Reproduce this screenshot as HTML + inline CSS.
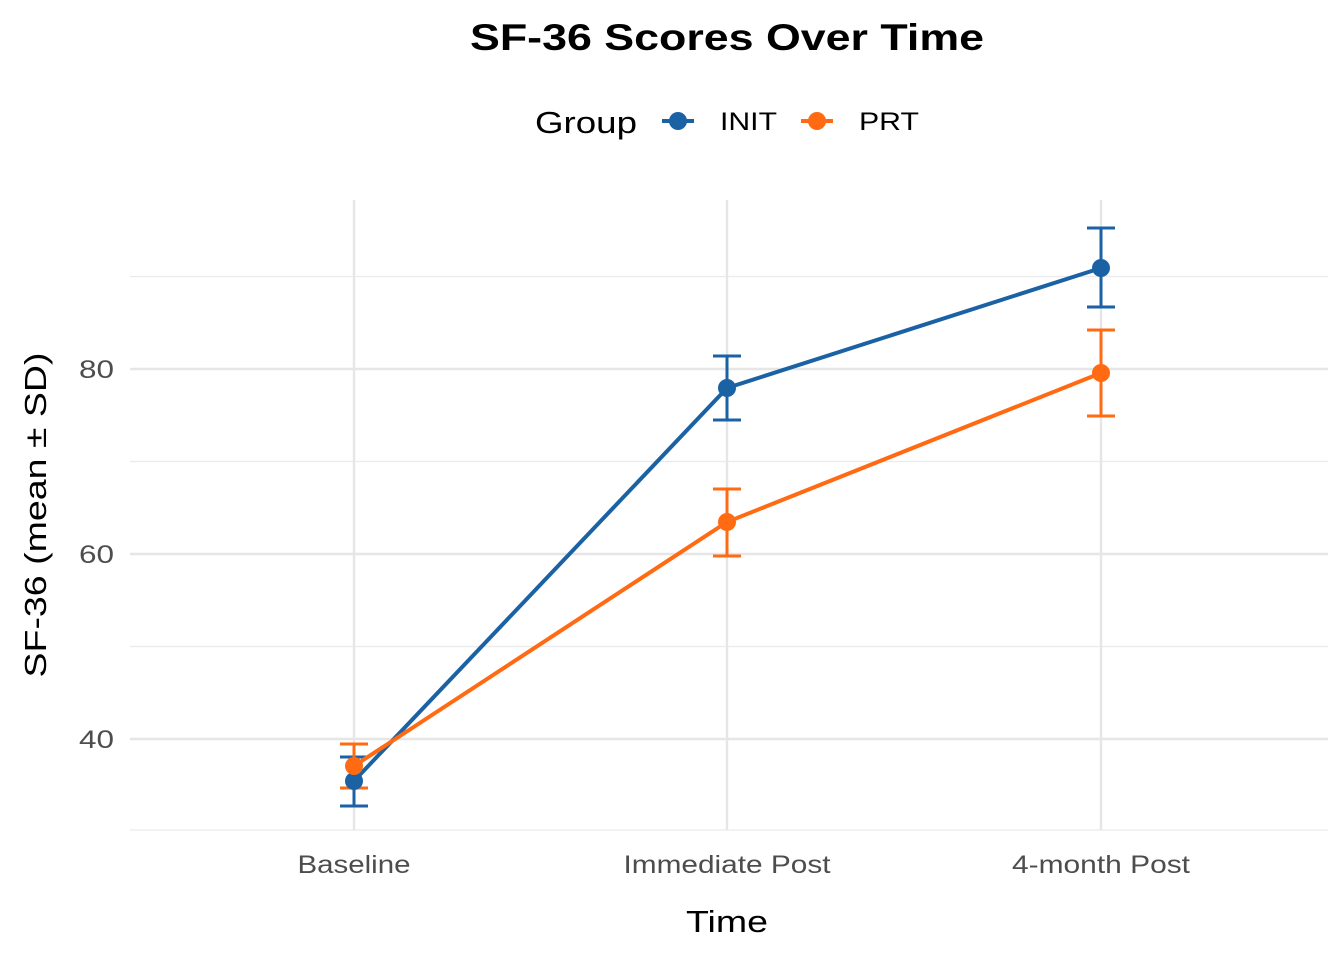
<!DOCTYPE html>
<html><head><meta charset="utf-8"><style>html,body{margin:0;padding:0;background:#fff}</style></head>
<body>
<svg width="1344" height="960" xmlns="http://www.w3.org/2000/svg" font-family="Liberation Sans, Arial, sans-serif">
<rect width="1344" height="960" fill="#fff"/>
<g stroke="#ebebeb" stroke-width="1.2">
<line x1="130" x2="1328" y1="276.5" y2="276.5"/>
<line x1="130" x2="1328" y1="461.5" y2="461.5"/>
<line x1="130" x2="1328" y1="646.5" y2="646.5"/>
<line x1="130" x2="1328" y1="830" y2="830"/>
</g>
<g stroke="#e6e6e6" stroke-width="2.4">
<line x1="130" x2="1328" y1="369" y2="369"/>
<line x1="130" x2="1328" y1="554" y2="554"/>
<line x1="130" x2="1328" y1="739" y2="739"/>
<line x1="354" x2="354" y1="200" y2="830"/>
<line x1="727" x2="727" y1="200" y2="830"/>
<line x1="1101" x2="1101" y1="200" y2="830"/>
</g>
<g stroke="#1b62a5" stroke-width="3" fill="none">
<path d="M340 757H368M354 757V806M340 806H368"/>
<path d="M713 356H741M727 356V420M713 420H741"/>
<path d="M1087 228H1115M1101 228V307M1087 307H1115"/>
<polyline points="354,781 727,388 1101,268" stroke-width="4"/>
</g>
<g stroke="#ff6a13" stroke-width="3" fill="none">
<path d="M340 744H368M354 744V788M340 788H368"/>
<path d="M713 489H741M727 489V556M713 556H741"/>
<path d="M1087 330H1115M1101 330V416M1087 416H1115"/>
<polyline points="354,766 727,522 1101,373" stroke-width="4"/>
</g>
<g fill="#1b62a5"><circle cx="354" cy="781" r="9"/><circle cx="727" cy="388" r="9"/><circle cx="1101" cy="268" r="9"/></g>
<g fill="#ff6a13"><circle cx="354" cy="766" r="9"/><circle cx="727" cy="522" r="9"/><circle cx="1101" cy="373" r="9"/></g>
<g fill="#4d4d4d" font-size="25" text-anchor="end" lengthAdjust="spacingAndGlyphs">
<text x="114" y="378" textLength="35" lengthAdjust="spacingAndGlyphs">80</text><text x="114" y="563" textLength="35" lengthAdjust="spacingAndGlyphs">60</text><text x="114" y="748" textLength="35" lengthAdjust="spacingAndGlyphs">40</text>
</g>
<g fill="#4d4d4d" font-size="25" text-anchor="middle">
<text x="354" y="873" textLength="113" lengthAdjust="spacingAndGlyphs">Baseline</text><text x="727" y="873" textLength="207" lengthAdjust="spacingAndGlyphs">Immediate Post</text><text x="1101" y="873" textLength="178" lengthAdjust="spacingAndGlyphs">4-month Post</text>
</g>
<text x="727" y="932" font-size="31" text-anchor="middle" fill="#000" textLength="82" lengthAdjust="spacingAndGlyphs">Time</text>
<text transform="translate(46,515) rotate(-90)" font-size="31" text-anchor="middle" fill="#000" textLength="325" lengthAdjust="spacingAndGlyphs">SF-36 (mean ± SD)</text>
<text x="727" y="50" font-size="37" font-weight="bold" text-anchor="middle" fill="#000" textLength="514" lengthAdjust="spacingAndGlyphs">SF-36 Scores Over Time</text>
<text x="535" y="133" font-size="31" fill="#000" textLength="102" lengthAdjust="spacingAndGlyphs">Group</text>
<line x1="662" x2="694" y1="121" y2="121" stroke="#1b62a5" stroke-width="4"/>
<circle cx="678" cy="121" r="9" fill="#1b62a5"/>
<text x="720" y="130" font-size="25" fill="#000" textLength="57" lengthAdjust="spacingAndGlyphs">INIT</text>
<line x1="801" x2="833" y1="121" y2="121" stroke="#ff6a13" stroke-width="4"/>
<circle cx="817" cy="121" r="9" fill="#ff6a13"/>
<text x="859" y="130" font-size="25" fill="#000" textLength="60" lengthAdjust="spacingAndGlyphs">PRT</text>
</svg>
</body></html>
